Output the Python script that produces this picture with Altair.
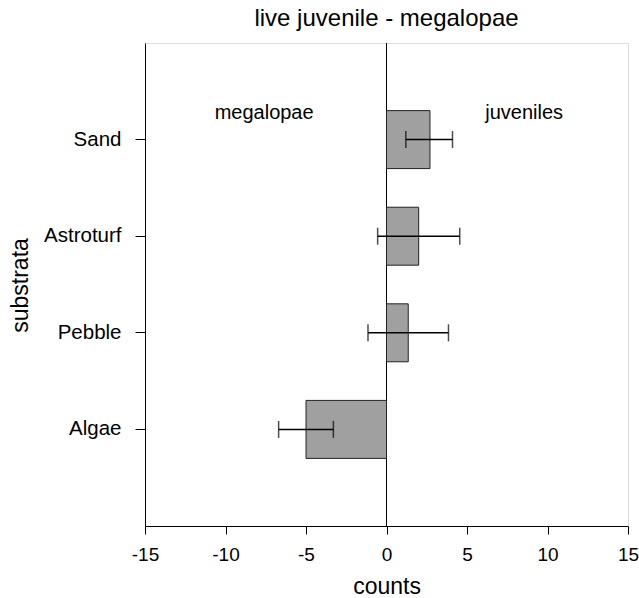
import altair as alt
import pandas as pd

substrata = ["Sand", "Astroturf", "Pebble", "Algae"]
counts = [2.7, 2.0, 1.35, -5.0]
err_low = [1.2, -0.55, -1.15, -6.7]
err_high = [4.1, 4.55, 3.85, -3.3]
x_ticks = [-15, -10, -5, 0, 5, 10, 15]

ann_labels = ["megalopae", "juveniles"]
ann_x = [-7.6, 8.55]

df = pd.DataFrame({"substrata": substrata, "counts": counts,
                   "lo": err_low, "hi": err_high})
ann = pd.DataFrame({"label": ann_labels, "x": ann_x})
zero = pd.DataFrame({"x": [0]})

FONT = "Liberation Sans"

xscale = alt.Scale(domain=[-15, 15], nice=False, zero=False)
yscale = alt.Scale(domain=substrata, paddingInner=0.4, paddingOuter=0.7)

base = alt.Chart(df)

bars = base.mark_bar(color="#a0a0a0", stroke="#222222", strokeWidth=1).encode(
    x=alt.X("counts:Q", scale=xscale,
            axis=alt.Axis(title="counts", values=x_ticks,
                          labelExpr="'' + datum.value", labelFlush=False,
                          grid=False, tickSize=8, tickColor="black",
                          domainColor="black", labelFontSize=19,
                          labelFont=FONT, titleFont=FONT, titleFontSize=23,
                          titleFontWeight="normal", labelPadding=11,
                          titleY=67, titleBaseline="alphabetic",
                          labelColor="black", titleColor="black")),
    x2=alt.datum(0),
    y=alt.Y("substrata:N", scale=yscale, sort=substrata,
            axis=alt.Axis(title="substrata", grid=False, tickSize=10,
                          tickColor="black", domainColor="black",
                          labelFontSize=20.5, labelFont=FONT, titleFont=FONT,
                          titleFontSize=23, titleFontWeight="normal",
                          labelPadding=14, titleX=-118, titleY=242,
                          titleAngle=-90, titleAlign="center",
                          titleBaseline="alphabetic", labelColor="black",
                          titleColor="black")),
)

err = base.mark_rule(color="black", strokeWidth=1.5).encode(
    x=alt.X("lo:Q", scale=xscale), x2="hi:Q",
    y=alt.Y("substrata:N", scale=yscale, sort=substrata),
)
cap_lo = base.mark_tick(color="black", thickness=1.5, size=17, orient="vertical").encode(
    x=alt.X("lo:Q", scale=xscale),
    y=alt.Y("substrata:N", scale=yscale, sort=substrata),
)
cap_hi = base.mark_tick(color="black", thickness=1.5, size=17, orient="vertical").encode(
    x=alt.X("hi:Q", scale=xscale),
    y=alt.Y("substrata:N", scale=yscale, sort=substrata),
)

zline = alt.Chart(zero).mark_rule(color="black", strokeWidth=1).encode(
    x=alt.X("x:Q", scale=xscale)
)

texts = alt.Chart(ann).mark_text(fontSize=20, font=FONT, color="black",
                                 baseline="middle").encode(
    x=alt.X("x:Q", scale=xscale),
    y=alt.value(70),
    text="label:N",
)

chart = alt.layer(zline, bars, err, cap_lo, cap_hi, texts).properties(
    width=483, height=483,
    title=alt.TitleParams("live juvenile - megalopae", font=FONT, fontSize=24,
                          fontWeight="normal", color="black", offset=12),
    autosize=alt.AutoSizeParams(type="none"),
    padding={"left": 145, "top": 43, "right": 11, "bottom": 72},
).configure_view(stroke="black", strokeWidth=1).configure(background="white")

chart.save("out.html", embed_options={"renderer": "svg", "actions": False})
